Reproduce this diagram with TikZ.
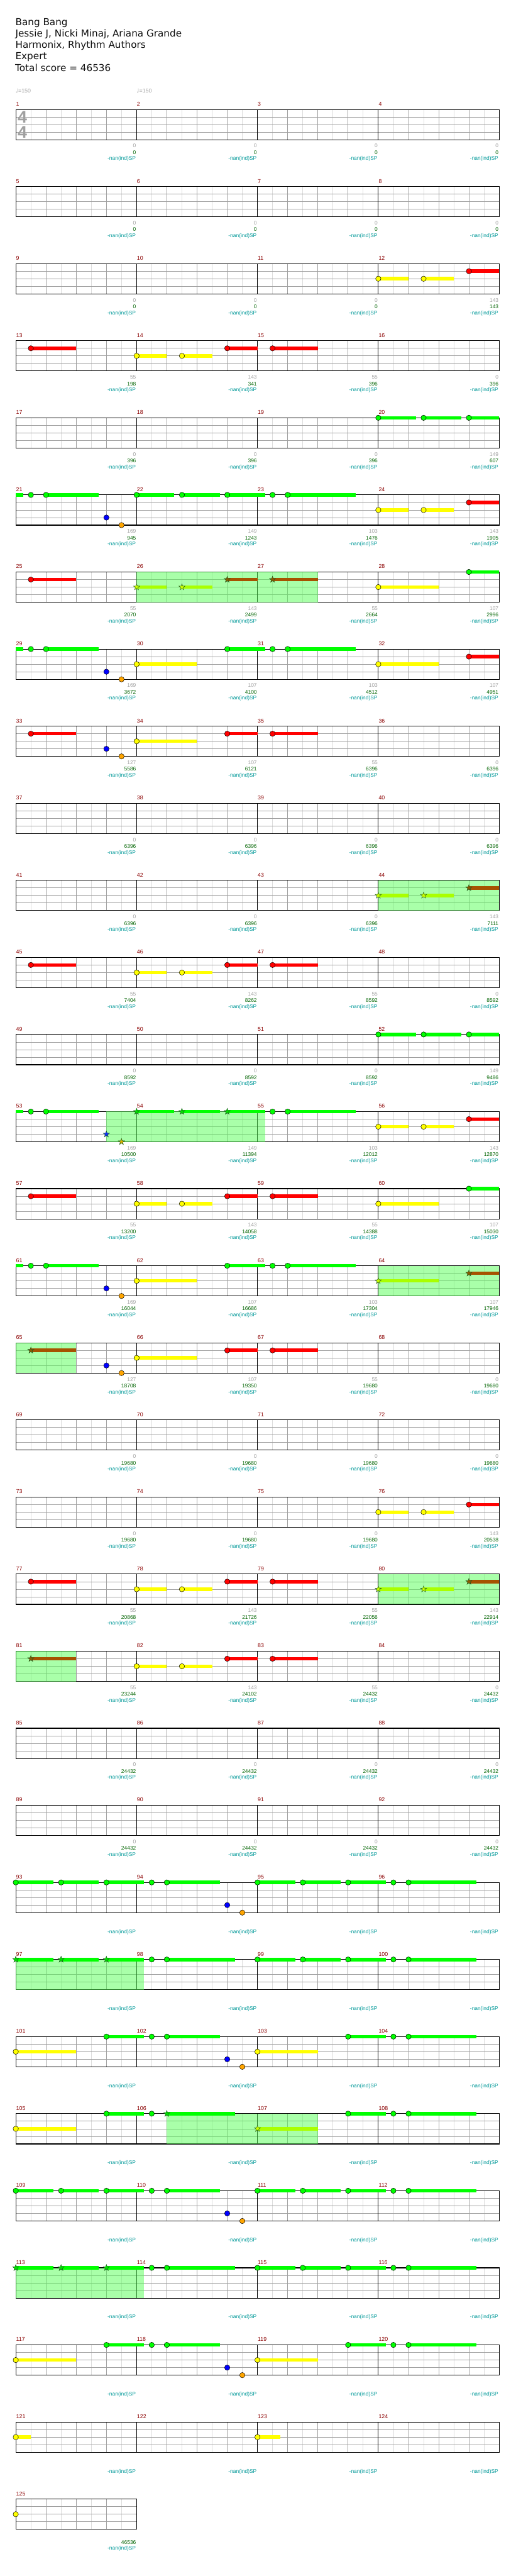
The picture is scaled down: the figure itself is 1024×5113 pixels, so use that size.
\documentclass[tikz,border=0pt]{standalone}
\usepackage{fontspec}
\setmainfont{DejaVu Sans}
\newfontfamily\smallf{Liberation Sans}
\newfontfamily\symf{DejaVu Sans}
\usetikzlibrary{calc}
\definecolor{lane0}{HTML}{00FF00}
\definecolor{lane1}{HTML}{FF0000}
\definecolor{lane2}{HTML}{FFFF00}
\definecolor{lane3}{HTML}{0000FF}
\definecolor{lane4}{HTML}{FFA500}
\definecolor{spsus0}{HTML}{00FF00}
\definecolor{spsus1}{HTML}{A65300}
\definecolor{spsus2}{HTML}{AAFF00}
\definecolor{spsus3}{HTML}{0000FF}
\definecolor{spsus4}{HTML}{FFA500}
\definecolor{star0}{HTML}{00E000}
\definecolor{star1}{HTML}{8B5A00}
\definecolor{star2}{HTML}{CCFF00}
\definecolor{star3}{HTML}{1030FF}
\definecolor{star4}{HTML}{D8B000}
\definecolor{starline}{HTML}{1E5A1E}
\definecolor{spg}{RGB}{85,255,85}
\definecolor{halfc}{HTML}{DCDCDC}
\definecolor{beatc}{HTML}{A0A0A0}
\definecolor{mred}{HTML}{8B0000}
\definecolor{scgray}{HTML}{A0A0A0}
\definecolor{scgreen}{HTML}{006400}
\definecolor{scteal}{HTML}{009999}
\definecolor{hdrc}{HTML}{101010}
\tikzset{
  half/.style={draw=halfc, line width=1},
  beat/.style={draw=beatc, line width=1},
  barl/.style={draw=black, line width=1},
  border/.style={draw=black, line width=1.4},
  notec/.style={draw=black, line width=0.6},
  spfill/.style={fill=spg, fill opacity=0.5},
  hdr/.style={font=\fontsize{19}{19}\selectfont, text=hdrc, anchor=base west, inner sep=0},
  mnum/.style={font=\smallf\fontsize{11}{11}\selectfont, text=mred, anchor=base west, inner sep=0},
  gst/.style={font=\smallf\fontsize{10.5}{10.5}\selectfont, text=scgray, anchor=base east, inner sep=0},
  tst/.style={font=\smallf\fontsize{10.5}{10.5}\selectfont, text=scgreen, anchor=base east, inner sep=0},
  nanst/.style={font=\smallf\fontsize{10.5}{10.5}\selectfont, text=scteal, anchor=base east, inner sep=0},
  tempo/.style={font=\smallf\fontsize{11}{11}\selectfont, text=scgray, anchor=base west, inner sep=0},
  tsig/.style={font=\smallf\bfseries\fontsize{33.5}{33.5}\selectfont, text=scgray, inner sep=0}
}
\newcommand\mpos[2]{%
  \pgfmathtruncatemacro\mrow{int((#1-1)/4)}%
  \pgfmathtruncatemacro\mcol{#1-1-4*\mrow}%
  \pgfmathsetmacro\X{31.3+240*\mcol+30*(#2)}%
  \pgfmathsetmacro\Y{217.3+153*\mrow}}
% normal note: measure, eighth, lane, sustain length (eighths)
\newcommand\nt[4]{\mpos{#1}{#2}\pgfmathsetmacro\Yl{\Y+15*#3}%
  \ifdim#4pt>0pt \fill[lane#3] (\X,{\Yl-3.5}) rectangle ({\X+30*#4},{\Yl+3.5});\fi
  \filldraw[notec, fill=lane#3] (\X,\Yl) circle (5.3);}
% star (overdrive) note
\newcommand\nst[4]{\mpos{#1}{#2}\pgfmathsetmacro\Yl{\Y+15*#3}%
  \ifdim#4pt>0pt \fill[spsus#3] (\X,{\Yl-3.5}) rectangle ({\X+30*#4},{\Yl+3.5});\fi
  \filldraw[fill=star#3, draw=starline, line width=0.6, shift={(\X,\Yl)}]
    (0,-6.5) -- (1.53,-2.10) -- (6.18,-2.01) -- (2.47,0.80) -- (3.82,5.26) -- (0,2.6)
    -- (-3.82,5.26) -- (-2.47,0.80) -- (-6.18,-2.01) -- (-1.53,-2.10) -- cycle;}
% sustain continuation only
\newcommand\susbar[4]{\mpos{#1}{#2}\pgfmathsetmacro\Yl{\Y+15*#3}%
  \fill[lane#3] (\X,{\Yl-3.5}) rectangle ({\X+30*#4},{\Yl+3.5});}
% overdrive region: measure, start eighth, end eighth (same row)
\newcommand\spreg[3]{\mpos{#1}{#2}%
  \fill[spfill] (\X,\Y) rectangle ({\X+30*(#3-#2)},{\Y+60});}
% riff patterns
\newcommand\pA[1]{\nt{#1}{0}{0}{2.5}\nt{#1}{3}{0}{2.5}\nt{#1}{6}{0}{2.5}}
\newcommand\pB[1]{\nt{#1}{1}{0}{0}\nt{#1}{2}{0}{3.5}\nt{#1}{6}{3}{0}\nt{#1}{7}{4}{0}}
\newcommand\pC[1]{\nt{#1}{1}{0}{0}\nt{#1}{2}{0}{4.5}}
\newcommand\pY[1]{\nt{#1}{0}{2}{4}\nt{#1}{6}{0}{2.5}}
\begin{document}
\begin{tikzpicture}[x=1pt,y=-1pt]
\useasboundingbox[fill=white] (0,0) rectangle (1024,5113);
% header
\node[hdr] (title) at (30.5,50) {Bang Bang};
\node[hdr] (artist) at (30.5,72.8) {Jessie J, Nicki Minaj, Ariana Grande};
\node[hdr] (author) at (30.5,95.6) {Harmonix, Rhythm Authors};
\node[hdr] (diff) at (30.5,118.4) {Expert};
\node[hdr] (total) at (30,141.2) {Total score = 46536};
\node[tempo] (tempo1) at (31,184.5) {{\symf\fontsize{11}{11}\selectfont ♩}=150};
\node[tempo] (tempo2) at (271.3,184.5) {{\symf\fontsize{11}{11}\selectfont ♩}=150};
% grids
\foreach \r in {0,...,31}{
  \pgfmathsetmacro\ty{217.3+153*\r}
  \pgfmathtruncatemacro\nm{\r==31 ? 1 : 4}
  \pgfmathsetmacro\W{240*\nm}
  \pgfmathtruncatemacro\nk{8*\nm-1}
  \foreach \k in {1,3,...,\nk}{\draw[half] ({31.3+30*\k},\ty) -- ++(0,60);}
  \foreach \l in {1,2,3}{\draw[beat] (31.3,{\ty+15*\l}) -- ++(\W,0);}
  \foreach \k in {2,4,...,\nk}{
    \pgfmathtruncatemacro\isbar{mod(\k,8)==0 ? 1 : 0}
    \ifnum\isbar=1 \draw[barl] ({31.3+30*\k},\ty) -- ++(0,60);
    \else \draw[beat] ({31.3+30*\k},\ty) -- ++(0,60);\fi}
  \draw[border] (31.3,\ty) rectangle ++(\W,60);
}
% time signature
\node[tsig] (ts1) at (44.5,232.8) {4};
\node[tsig] (ts2) at (44.5,262.8) {4};
% overdrive regions
\spreg{26}{0}{12}
\spreg{44}{0}{8}
\spreg{53}{6}{16.5}
\spreg{64}{0}{8}
\spreg{65}{0}{4}
\spreg{80}{0}{8}
\spreg{81}{0}{4}
\spreg{97}{0}{8.5}
\spreg{106}{2}{12}
\spreg{113}{0}{8.5}
% notes
\nt{12}{0}{2}{2}\nt{12}{3}{2}{2}\nt{12}{6}{1}{2}
\nt{13}{1}{1}{3}
\nt{14}{0}{2}{2}\nt{14}{3}{2}{2}\nt{14}{6}{1}{2}
\nt{15}{1}{1}{3}
\nt{20}{0}{0}{2.5}\nt{20}{3}{0}{2.5}\nt{20}{6}{0}{2}
\susbar{21}{0}{0}{0.5}\nt{21}{1}{0}{0}\nt{21}{2}{0}{3.5}\nt{21}{6}{3}{0}\nt{21}{7}{4}{0}
\nt{22}{0}{0}{2.5}\nt{22}{3}{0}{2.5}\nt{22}{6}{0}{2.5}
\nt{23}{1}{0}{0}\nt{23}{2}{0}{4.5}
\nt{24}{0}{2}{2}\nt{24}{3}{2}{2}\nt{24}{6}{1}{2}
\nt{25}{1}{1}{3}
\nst{26}{0}{2}{2}\nst{26}{3}{2}{2}\nst{26}{6}{1}{2}
\nst{27}{1}{1}{3}
\nt{28}{0}{2}{4}\nt{28}{6}{0}{2}
\susbar{29}{0}{0}{0.5}\nt{29}{1}{0}{0}\nt{29}{2}{0}{3.5}\nt{29}{6}{3}{0}\nt{29}{7}{4}{0}
\nt{30}{0}{2}{4}\nt{30}{6}{0}{2.5}
\nt{31}{1}{0}{0}\nt{31}{2}{0}{4.5}
\nt{32}{0}{2}{4}\nt{32}{6}{1}{2}
\nt{33}{1}{1}{3}\nt{33}{6}{3}{0}\nt{33}{7}{4}{0}
\nt{34}{0}{2}{4}\nt{34}{6}{1}{2}
\nt{35}{1}{1}{3}
\nst{44}{0}{2}{2}\nst{44}{3}{2}{2}\nst{44}{6}{1}{2}
\nt{45}{1}{1}{3}
\nt{46}{0}{2}{2}\nt{46}{3}{2}{2}\nt{46}{6}{1}{2}
\nt{47}{1}{1}{3}
\nt{52}{0}{0}{2.5}\nt{52}{3}{0}{2.5}\nt{52}{6}{0}{2}
\susbar{53}{0}{0}{0.5}\nt{53}{1}{0}{0}\nt{53}{2}{0}{3.5}\nst{53}{6}{3}{0}\nst{53}{7}{4}{0}
\nst{54}{0}{0}{2.5}\nst{54}{3}{0}{2.5}\nst{54}{6}{0}{2.5}
\nt{55}{1}{0}{0}\nt{55}{2}{0}{4.5}
\nt{56}{0}{2}{2}\nt{56}{3}{2}{2}\nt{56}{6}{1}{2}
\nt{57}{1}{1}{3}
\nt{58}{0}{2}{2}\nt{58}{3}{2}{2}\nt{58}{6}{1}{2}
\nt{59}{1}{1}{3}
\nt{60}{0}{2}{4}\nt{60}{6}{0}{2}
\susbar{61}{0}{0}{0.5}\nt{61}{1}{0}{0}\nt{61}{2}{0}{3.5}\nt{61}{6}{3}{0}\nt{61}{7}{4}{0}
\nt{62}{0}{2}{4}\nt{62}{6}{0}{2.5}
\nt{63}{1}{0}{0}\nt{63}{2}{0}{4.5}
\nst{64}{0}{2}{4}\nst{64}{6}{1}{2}
\nst{65}{1}{1}{3}\nt{65}{6}{3}{0}\nt{65}{7}{4}{0}
\nt{66}{0}{2}{4}\nt{66}{6}{1}{2}
\nt{67}{1}{1}{3}
\nt{76}{0}{2}{2}\nt{76}{3}{2}{2}\nt{76}{6}{1}{2}
\nt{77}{1}{1}{3}
\nt{78}{0}{2}{2}\nt{78}{3}{2}{2}\nt{78}{6}{1}{2}
\nt{79}{1}{1}{3}
\nst{80}{0}{2}{2}\nst{80}{3}{2}{2}\nst{80}{6}{1}{2}
\nst{81}{1}{1}{3}
\nt{82}{0}{2}{2}\nt{82}{3}{2}{2}\nt{82}{6}{1}{2}
\nt{83}{1}{1}{3}
% final section
\pA{93}\pB{94}\pA{95}\pC{96}
\nst{97}{0}{0}{2.5}\nst{97}{3}{0}{2.5}\nst{97}{6}{0}{2.5}\pC{98}\pA{99}\pC{100}
\pY{101}\pB{102}\pY{103}\pC{104}
\pY{105}\nt{106}{1}{0}{0}\nst{106}{2}{0}{4.5}\nst{107}{0}{2}{4}\nt{107}{6}{0}{2.5}\pC{108}
\pA{109}\pB{110}\pA{111}\pC{112}
\nst{113}{0}{0}{2.5}\nst{113}{3}{0}{2.5}\nst{113}{6}{0}{2.5}\pC{114}\pA{115}\pC{116}
\pY{117}\pB{118}\pY{119}\pC{120}
\nt{121}{0}{2}{1}
\nt{123}{0}{2}{1.5}
\nt{125}{0}{2}{0}
% measure numbers and SP text
\foreach \m in {1,...,125}{
  \mpos{\m}{0}
  \node[mnum] (mn\m) at ({\X+0.6},{\Y-7}) {\m};
  \node[nanst] (sp\m) at ({\X+238.6},{\Y+101}) {-nan(ind)SP};
}
% scores
\foreach \m/\g/\t in {1/0/0,2/0/0,3/0/0,4/0/0,5/0/0,6/0/0,7/0/0,8/0/0,9/0/0,10/0/0,11/0/0,12/143/143,
  13/55/198,14/143/341,15/55/396,16/0/396,17/0/396,18/0/396,19/0/396,20/149/607,
  21/169/945,22/149/1243,23/103/1476,24/143/1905,25/55/2070,26/143/2499,27/55/2664,28/107/2996,
  29/169/3672,30/107/4100,31/103/4512,32/107/4951,33/127/5586,34/107/6121,35/55/6396,36/0/6396,
  37/0/6396,38/0/6396,39/0/6396,40/0/6396,41/0/6396,42/0/6396,43/0/6396,44/143/7111,
  45/55/7404,46/143/8262,47/55/8592,48/0/8592,49/0/8592,50/0/8592,51/0/8592,52/149/9486,
  53/169/10500,54/149/11394,55/103/12012,56/143/12870,57/55/13200,58/143/14058,59/55/14388,60/107/15030,
  61/169/16044,62/107/16686,63/103/17304,64/107/17946,65/127/18708,66/107/19350,67/55/19680,68/0/19680,
  69/0/19680,70/0/19680,71/0/19680,72/0/19680,73/0/19680,74/0/19680,75/0/19680,76/143/20538,
  77/55/20868,78/143/21726,79/55/22056,80/143/22914,81/55/23244,82/143/24102,83/55/24432,84/0/24432,
  85/0/24432,86/0/24432,87/0/24432,88/0/24432,89/0/24432,90/0/24432,91/0/24432,92/0/24432}{
  \mpos{\m}{0}
  \node[gst] (g\m) at ({\X+239},{\Y+76}) {\g};
  \node[tst] (t\m) at ({\X+239},{\Y+89}) {\t};
}
\mpos{125}{0}
\node[tst] (t125) at ({\X+239},{\Y+89}) {46536};
\end{tikzpicture}
\end{document}
